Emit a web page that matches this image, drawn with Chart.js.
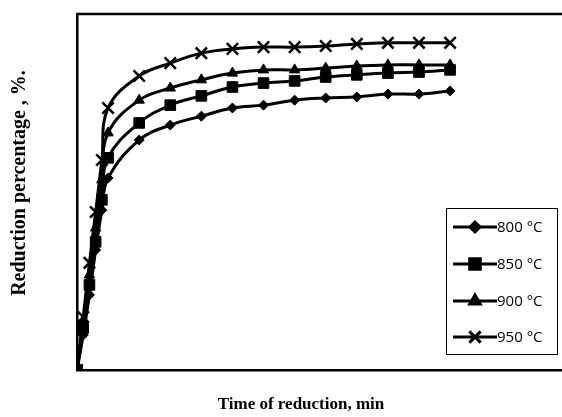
<!DOCTYPE html>
<html>
<head>
<meta charset="utf-8">
<script src="https://cdn.jsdelivr.net/npm/chart.js@4/dist/chart.umd.min.js"></script>
<style>
    html, body { margin: 0; padding: 0; background: #fff; }
    #wrap { width: 562px; height: 417px; }
</style>
</head>
<body>
<div id="wrap"><canvas id="reductionChart"></canvas></div>
<script>
// time in minutes
const times = [0, 1, 2, 3, 4, 5, 10, 15, 20, 25, 30, 35, 40, 45, 50, 55, 60];

// reduction percentage, %
const red800 = [0, 9.8, 21.1, 33.7, 44.9, 53.9, 64.6, 68.8, 71.3, 73.6, 74.4, 75.8, 76.4, 76.7, 77.5, 77.5, 78.4];
const red850 = [0, 11.8, 23.9, 36.0, 47.8, 59.6, 69.4, 74.4, 77.0, 79.5, 80.6, 81.2, 82.3, 82.9, 83.4, 83.7, 84.3];
const red900 = [0, 13.5, 26.7, 39.9, 53.4, 66.6, 75.8, 79.2, 81.5, 83.4, 84.3, 84.3, 84.8, 85.4, 85.7, 85.7, 85.7];
const red950 = [0, 14.9, 30.1, 44.4, 59.0, 73.6, 82.6, 86.2, 89.0, 90.2, 90.7, 90.7, 91.0, 91.6, 91.9, 91.9, 91.9];

const seriesNames = ['800 °C', '850 °C', '900 °C', '950 °C'];
const seriesValues = [red800, red850, red900, red950];
const markerStyles = ['rectRot', 'rect', 'triangle', 'crossRot'];
const markerSizes = [5, 7.5, 6, 8];

const xTitle = 'Time of reduction, min';
const yTitle = 'Reduction percentage , %.';

function toPoints(values) {
    return values.map((v, i) => ({ x: times[i], y: v }));
}

const datasets = seriesNames.map((name, i) => ({
    label: name,
    data: toPoints(seriesValues[i]),
    borderColor: '#000',
    backgroundColor: '#000',
    borderWidth: 3,
    pointStyle: markerStyles[i],
    pointRadius: markerSizes[i],
    pointBorderWidth: markerStyles[i] === 'crossRot' ? 2.5 : 1,
    pointBackgroundColor: '#000',
    pointBorderColor: '#000',
    tension: 0.4,
    fill: false
}));

// top frame line, axis titles and boxed legend inside the plot
const framePlugin = {
    id: 'framePlugin',
    afterDraw(chart) {
        const ctx = chart.ctx;
        const area = chart.chartArea;
        ctx.save();
        ctx.strokeStyle = '#000';
        ctx.lineWidth = 2.5;
        ctx.beginPath();
        ctx.moveTo(area.left - 1, area.top);
        ctx.lineTo(area.right, area.top);
        ctx.stroke();

        // axis titles
        ctx.fillStyle = '#000';
        ctx.textAlign = 'center';
        ctx.textBaseline = 'middle';
        ctx.font = "bold 17px 'Liberation Serif', 'Times New Roman', serif";
        ctx.fillText(xTitle, 301, 405);

        ctx.save();
        ctx.translate(20, 183);
        ctx.rotate(-Math.PI / 2);
        ctx.font = "bold 20px 'Liberation Serif', 'Times New Roman', serif";
        ctx.fillText(yTitle, 0, 0);
        ctx.restore();

        // legend box
        const bx = 446, by = 208, bw = 111, bh = 146;
        ctx.fillStyle = '#fff';
        ctx.fillRect(bx, by, bw, bh);
        ctx.lineWidth = 1;
        ctx.strokeRect(bx + 0.5, by + 0.5, bw, bh);

        const rowY = [227, 264, 301, 337];
        ctx.font = "15px 'Open Sans', 'Noto Sans', sans-serif";
        ctx.textBaseline = 'middle';
        ctx.textAlign = 'left';
        ctx.fillStyle = '#000';
        chart.data.datasets.forEach((ds, i) => {
            const y = rowY[i];
            ctx.lineWidth = 3;
            ctx.beginPath();
            ctx.moveTo(453, y);
            ctx.lineTo(497, y);
            ctx.stroke();
            Chart.helpers.drawPoint(ctx, {
                pointStyle: ds.pointStyle,
                radius: ds.pointRadius,
                rotation: 0,
                borderWidth: ds.pointBorderWidth
            }, 475, y);
            ctx.fillText(ds.label, 497, y + 1);
        });
        ctx.restore();
    }
};

const ctx = document.getElementById('reductionChart').getContext('2d');
const chart = new Chart(ctx, {
    type: 'line',
    data: { datasets: datasets },
    options: {
        responsive: true,
        maintainAspectRatio: false,
        animation: false,
        layout: {
            autoPadding: false,
            padding: { top: 14, right: 0, bottom: 47, left: 77 }
        },
        plugins: {
            legend: { display: false },
            tooltip: { enabled: false }
        },
        scales: {
            x: {
                type: 'linear',
                min: 0,
                max: 78,
                grid: { display: false, drawTicks: false },
                border: { display: true, color: '#000', width: 2.5 },
                ticks: { display: false }
            },
            y: {
                min: 0,
                max: 100,
                grid: { display: false, drawTicks: false },
                border: { display: true, color: '#000', width: 2.5 },
                ticks: { display: false }
            }
        }
    },
    plugins: [framePlugin]
});
</script>
</body>
</html>
